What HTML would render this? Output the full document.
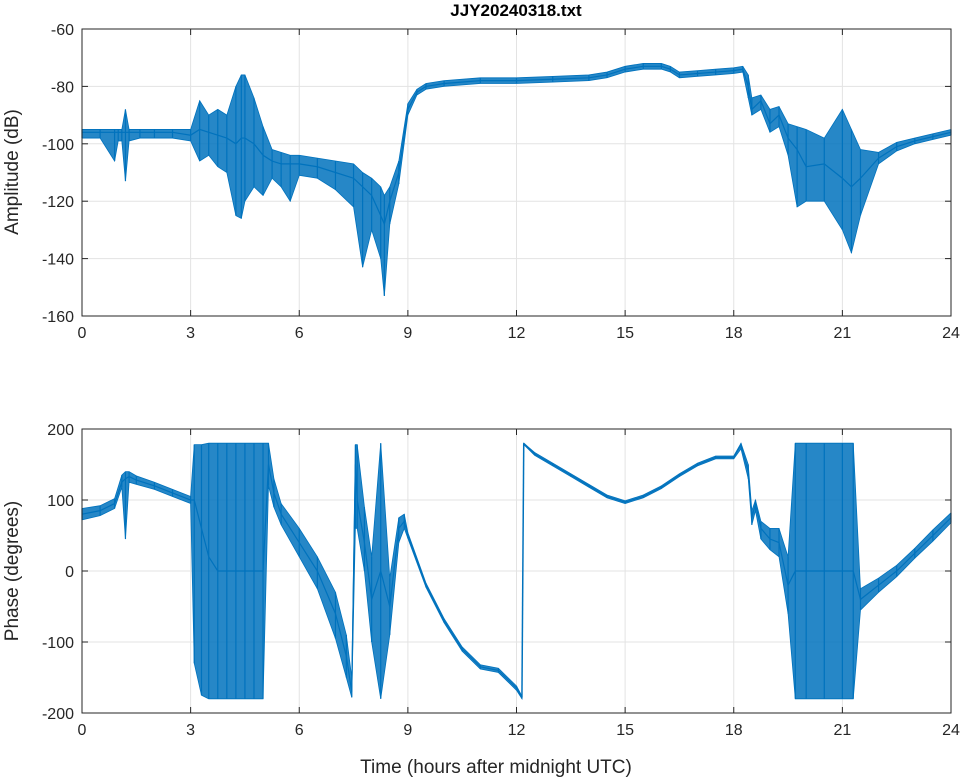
<!DOCTYPE html>
<html><head><meta charset="utf-8"><style>
body{margin:0;background:#fff;}
svg{display:block;font-family:"Liberation Sans",sans-serif;}
</style></head><body>
<svg id="chart" width="964" height="778" xmlns="http://www.w3.org/2000/svg">
<text x="516" y="16" text-anchor="middle" font-size="17" font-weight="bold">JJY20240318.txt</text>
<text transform="translate(18,172) rotate(-90)" text-anchor="middle" font-size="19" fill="#262626">Amplitude (dB)</text>
<text transform="translate(18,571) rotate(-90)" text-anchor="middle" font-size="19" fill="#262626">Phase (degrees)</text>
<text x="496" y="773" text-anchor="middle" font-size="19" fill="#262626">Time (hours after midnight UTC)</text>
<g id="top"></g>
<g id="bot"></g>
</svg>
<script>
const xTicks=[0,3,6,9,12,15,18,21,24];
const ampTicks=[-60,-80,-100,-120,-140,-160];
const phaseTicks=[200,100,0,-100,-200];
// amplitude: time, mean, low, high
const ampT=[0,0.5,0.9,1.0,1.1,1.2,1.3,1.6,2,2.5,3,3.25,3.5,3.75,4,4.25,4.4,4.5,4.75,5,5.25,5.5,5.75,6,6.5,7,7.5,7.75,8,8.25,8.35,8.5,8.75,9,9.25,9.5,10,11,12,13,14,14.5,15,15.5,16,16.25,16.5,17,17.5,18,18.25,18.4,18.5,18.75,19,19.25,19.5,19.75,20,20.5,21,21.25,21.5,22,22.5,23,23.5,24];
const ampMean=[-96,-96,-96,-96,-96,-96,-96,-96,-96,-96,-97,-95,-96,-97,-98,-100,-98,-98,-100,-104,-106,-107,-107,-107,-108,-110,-112,-115,-118,-125,-128,-120,-110,-88,-82,-80,-79,-78,-78,-77.5,-77,-76,-74,-73,-73,-74,-76,-75.5,-75,-74.5,-74,-80,-88,-85,-93,-90,-98,-102,-108,-107,-112,-115,-112,-105,-101,-99,-97.5,-96];
const ampLo=[-98,-98,-106,-99,-99,-113,-99,-98,-98,-98,-99,-106,-104,-108,-110,-125,-126,-120,-115,-118,-112,-115,-120,-111,-112,-116,-122,-143,-130,-140,-153,-128,-114,-90,-83,-81,-80,-79,-79,-78.5,-78,-77,-75,-74,-74,-75,-77,-76.5,-76,-75.5,-75,-84,-90,-88,-96,-94,-104,-122,-120,-120,-130,-138,-125,-107,-102.5,-100,-98.5,-97];
const ampHi=[-95,-95,-95,-95,-95,-88,-95,-95,-95,-95,-95,-85,-90,-88,-90,-80,-76,-76,-84,-94,-102,-103,-104,-104,-105,-106,-107,-110,-112,-115,-118,-115,-106,-86,-81,-79,-78,-77,-77,-76.5,-76,-75,-73,-72,-72,-73,-75,-74.5,-74,-73.5,-73,-76,-84,-83,-88,-87,-93,-94,-95,-98,-88,-95,-102,-103,-99.5,-98,-96.5,-95];
// phase: time, mean, low, high
const phT=[0,0.5,0.9,1.1,1.2,1.3,1.5,2,2.5,3,3.1,3.3,3.5,3.75,4,4.25,4.5,4.75,5,5.15,5.3,5.5,6,6.5,7,7.3,7.45,7.55,7.6,7.8,8,8.25,8.5,8.75,8.9,9,9.5,10,10.5,11,11.5,12,12.15];
const phMean=[80,85,95,125,130,133,128,120,110,100,100,60,20,0,0,0,0,0,0,150,110,80,40,0,-60,-120,-170,150,100,40,-40,0,-50,60,70,50,-20,-70,-110,-135,-140,-165,-178];
const phLo=[72,78,88,118,45,125,122,115,105,95,-130,-175,-180,-180,-180,-180,-180,-180,-180,120,90,65,20,-25,-95,-150,-178,60,60,0,-100,-180,-90,40,60,46,-23,-73,-113,-138,-143,-168,-180];
const phHi=[88,92,102,135,140,140,134,125,115,105,178,178,180,180,180,180,180,180,180,180,130,95,60,20,-30,-90,-150,178,178,90,20,180,-10,75,80,54,-17,-67,-107,-132,-137,-162,-176];
const ph2T=[12.2,12.5,13,13.5,14,14.5,15,15.5,16,16.5,17,17.5,18,18.2,18.4,18.5,18.6,18.75,19,19.25,19.5,19.7,20,20.5,21,21.3,21.5,22,22.5,23,23.5,24];
const ph2Mean=[180,165,150,135,120,105,97,105,118,135,150,160,160,178,140,75,95,60,45,40,-20,0,0,0,0,0,-40,-20,0,25,50,75];
const ph2Lo=[178,163,148,133,118,103,95,103,116,133,148,158,158,172,130,65,85,45,30,20,-60,-180,-180,-180,-180,-180,-55,-30,-8,18,42,68];
const ph2Hi=[180,167,152,137,122,107,99,107,120,137,152,162,162,180,150,85,100,70,60,60,20,180,180,180,180,180,-25,-10,8,32,58,82];

const NS="http://www.w3.org/2000/svg";
const L=82,R=951,C="#0072BD";
const xS=t=>L+(R-L)*t/24;
function mk(tag,attrs,parent){const e=document.createElementNS(NS,tag);for(const k in attrs)e.setAttribute(k,attrs[k]);parent.appendChild(e);return e;}
function panel(g,top,bot,ymin,ymax,yTicks,prefix){
  const yS=v=>bot-(bot-top)*(v-ymin)/(ymax-ymin);
  xTicks.forEach(t=>{const l=mk('line',{x1:xS(t),x2:xS(t),y1:top,y2:bot,stroke:'#e3e3e3'},g);
    
    
    const tx=mk('text',{x:xS(t),y:bot+22,'text-anchor':'middle','font-size':16,fill:'#262626'},g);tx.textContent=t;
    
    
    mk('line',{x1:xS(t),x2:xS(t),y1:bot,y2:bot-6,stroke:'#262626'},g);
    mk('line',{x1:xS(t),x2:xS(t),y1:top,y2:top+6,stroke:'#262626'},g);});
  yTicks.forEach(v=>{const l=mk('line',{x1:L,x2:R,y1:yS(v),y2:yS(v),stroke:'#e3e3e3'},g);
    
    
    const tx=mk('text',{x:L-8,y:yS(v)+6,'text-anchor':'end','font-size':16,fill:'#262626'},g);tx.textContent=v;
    
    
    mk('line',{x1:L,x2:L+6,y1:yS(v),y2:yS(v),stroke:'#262626'},g);
    mk('line',{x1:R,x2:R-6,y1:yS(v),y2:yS(v),stroke:'#262626'},g);});
  return yS;
}
function series(g,yS,T,M,Lo,Hi,name){
  let band='M'+T.map((t,i)=>xS(t)+','+yS(Hi[i])).join(' L')+' L'+T.map((t,i)=>xS(t)+','+yS(Lo[i])).reverse().join(' L')+'Z';
  const b=mk('path',{d:band,fill:C,'fill-opacity':0.85,stroke:C,'stroke-width':0.8},g);
  
  
  let sp='';T.forEach((t,i)=>{sp+='M'+xS(t)+','+yS(Lo[i])+'L'+xS(t)+','+yS(Hi[i]);});
  mk('path',{d:sp,stroke:C,'stroke-width':1.2,fill:'none'},g);
  const ln=mk('path',{d:'M'+T.map((t,i)=>xS(t)+','+yS(M[i])).join(' L'),stroke:C,'stroke-width':1.2,fill:'none'},g);
  
  
}
const gt=document.getElementById('top'),gb=document.getElementById('bot');
const yA=panel(gt,29,316,-160,-60,ampTicks,'amplitude');
series(gt,yA,ampT,ampMean,ampLo,ampHi,'amplitude');
mk('rect',{x:L,y:29,width:R-L,height:287,fill:'none',stroke:'#262626'},gt);
const yP=panel(gb,429,713,-200,200,phaseTicks,'phase');
series(gb,yP,phT,phMean,phLo,phHi,'phase');
series(gb,yP,ph2T,ph2Mean,ph2Lo,ph2Hi,'phase-late');
const jump=mk('line',{x1:xS(12.15),x2:xS(12.2),y1:yP(-178),y2:yP(180),stroke:C,'stroke-width':1.5},gb);


mk('rect',{x:L,y:429,width:R-L,height:284,fill:'none',stroke:'#262626'},gb);
</script>
</body></html>
